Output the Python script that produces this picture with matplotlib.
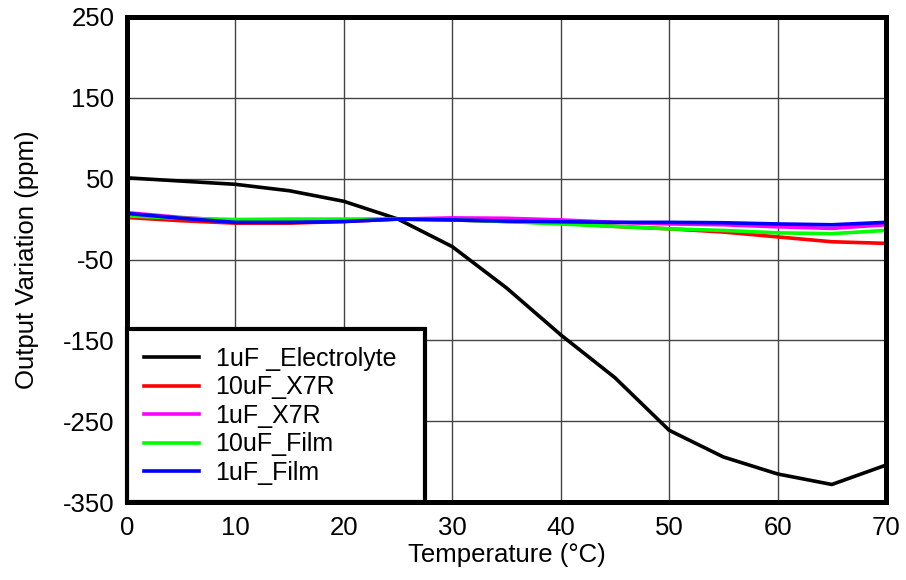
import matplotlib.pyplot as plt
import numpy as np

plt.rcParams['font.family'] = ['Liberation Sans', 'DejaVu Sans']
plt.rcParams['axes.unicode_minus'] = False

temp = [0, 5, 10, 15, 20, 25, 30, 35, 40, 45, 50, 55, 60, 65, 70]
electrolyte_1uf = [51, 47, 43, 35, 22, 0, -34, -85, -143, -196, -261, -294, -315, -328, -304]
x7r_10uf = [2, -2, -5, -5, -3, 0, -1, -3, -5, -9, -12, -16, -22, -28, -30]
x7r_1uf = [8, 2, -2, -3, -1, 0, 1.5, 1, -1, -4, -6, -7, -9.5, -11.5, -7]
film_10uf = [4, 1, -0.5, 0, 0, 0, -1, -3, -6, -9, -12, -14, -17, -18, -14]
film_1uf = [7, 1, -4, -4, -3, 0, -1, -2.5, -3.3, -4, -4, -4.5, -6, -7, -4]

series = [
    ("1uF _Electrolyte", electrolyte_1uf, "#000000"),
    ("10uF_X7R", x7r_10uf, "#ff0000"),
    ("1uF_X7R", x7r_1uf, "#ff00ff"),
    ("10uF_Film", film_10uf, "#00ff00"),
    ("1uF_Film", film_1uf, "#0000ff"),
]

fig = plt.figure(figsize=(9.06, 5.8), dpi=100)
ax = fig.add_axes([0.140, 0.134, 0.838, 0.837])

for name, vals, col in series:
    ax.plot(temp, vals, color=col, lw=2.6, label=name, zorder=3)

ax.set_xlim(0, 70)
ax.set_ylim(-350, 250)
ax.set_xticks(np.arange(0, 71, 10))
ax.set_yticks(np.arange(-350, 251, 100))
ax.grid(True, color="#444444", lw=1.0)
ax.tick_params(length=0, labelsize=18.5)
ax.tick_params(axis='y', pad=9)
ax.tick_params(axis='x', pad=10)

for s in ax.spines.values():
    s.set_linewidth(3.6)
    s.set_zorder(5)

ax.set_xlabel("Temperature (°C)", fontsize=18.5, labelpad=2)
ax.set_ylabel("Output Variation (ppm)", fontsize=18.5, labelpad=17)

# legend box stretched to fixed width like the original
leg = ax.legend(loc="lower left", bbox_to_anchor=(0, 0, 0.3926, 0.3), mode="expand",
                fontsize=18, frameon=True, fancybox=False, framealpha=1,
                edgecolor="black", borderaxespad=0, handlelength=2.2,
                handletextpad=0.65, labelspacing=0.18, borderpad=0.7)
leg.get_frame().set_linewidth(3.0)
leg.set_zorder(6)

fig.savefig("out.png", dpi=100)
